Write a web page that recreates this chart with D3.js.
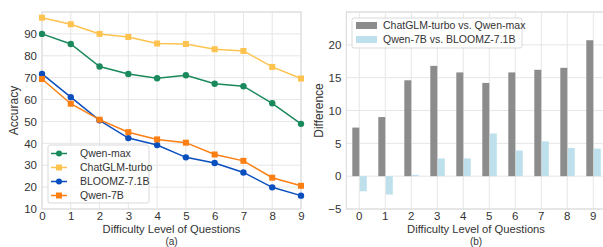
<!DOCTYPE html>
<html>
<head>
<meta charset="utf-8">
<script src="https://cdn.jsdelivr.net/npm/d3@7"></script>
<style>
  body { margin: 0; background: #fff; }
  svg { font-family: "Liberation Sans", Arial, sans-serif; }
  .tick text { fill: #333; font-size: 11.5px; }
</style>
</head>
<body>
<div id="chart"></div>
<script>
const levels = [0, 1, 2, 3, 4, 5, 6, 7, 8, 9];
const qwenMax = [90.0, 85.4, 75.1, 71.7, 69.7, 71.1, 67.2, 66.1, 58.3, 48.9];
const chatglm = [97.4, 94.4, 90.0, 88.6, 85.6, 85.4, 83.0, 82.2, 74.9, 69.6];
const bloomz = [71.7, 61.1, 50.5, 42.4, 39.2, 33.6, 31.0, 26.7, 19.9, 16.1];
const qwen7b = [69.4, 58.1, 50.8, 45.1, 41.8, 40.3, 34.9, 32.0, 24.3, 20.6];
const diffGlmMax = [7.4, 9.0, 14.6, 16.8, 15.8, 14.2, 15.8, 16.2, 16.5, 20.7];
const diff7bBloom = [-2.3, -2.8, 0.2, 2.7, 2.7, 6.5, 3.9, 5.3, 4.3, 4.2];
const accTicks = [10, 20, 30, 40, 50, 60, 70, 80, 90];
const diffTicks = [-5, 0, 5, 10, 15, 20];

const series = [
  {name: "Qwen-max", values: qwenMax, color: "#1a8a5c", marker: "circle"},
  {name: "ChatGLM-turbo", values: chatglm, color: "#fec34f", marker: "square"},
  {name: "BLOOMZ-7.1B", values: bloomz, color: "#0b4fbf", marker: "circle"},
  {name: "Qwen-7B", values: qwen7b, color: "#fb7f12", marker: "square"}
];
const bars = [
  {name: "ChatGLM-turbo vs. Qwen-max", values: diffGlmMax, color: "#8c8c8c"},
  {name: "Qwen-7B vs. BLOOMZ-7.1B", values: diff7bBloom, color: "#bde0ec"}
];

const W = 603, H = 247;
const svg = d3.select("#chart").append("svg").attr("width", W).attr("height", H);
const gridColor = "#e6e6e6";

// ---------- (a) line chart ----------
const L = {left: 42, right: 301, top: 12, bottom: 209};
const x1 = d3.scaleLinear().domain([0, 9]).range([L.left, L.right]);
const y1 = d3.scaleLinear().domain([10, 100]).range([L.bottom, L.top]);

const gA = svg.append("g");
gA.append("g").selectAll("line").data(levels).join("line")
  .attr("x1", d => x1(d)).attr("x2", d => x1(d))
  .attr("y1", L.top).attr("y2", L.bottom)
  .attr("stroke", gridColor);
gA.append("g").selectAll("line").data(accTicks.concat([100])).join("line")
  .attr("x1", L.left).attr("x2", L.right)
  .attr("y1", d => y1(d)).attr("y2", d => y1(d))
  .attr("stroke", gridColor);
gA.append("rect").attr("x", L.left).attr("y", L.top)
  .attr("width", L.right - L.left).attr("height", L.bottom - L.top)
  .attr("fill", "none").attr("stroke", "#d9d9d9");

gA.append("g").attr("transform", `translate(0,${L.bottom})`)
  .call(d3.axisBottom(x1).tickValues(levels).tickFormat(d3.format("d")).tickSize(0).tickPadding(3))
  .call(g => g.select(".domain").remove());
gA.append("g").attr("transform", `translate(${L.left},0)`)
  .call(d3.axisLeft(y1).tickValues(accTicks).tickSize(0).tickPadding(5))
  .call(g => g.select(".domain").remove());

const line = d3.line().x((d, i) => x1(levels[i])).y(d => y1(d));
series.forEach(s => {
  gA.append("path").datum(s.values).attr("d", line)
    .attr("fill", "none").attr("stroke", s.color).attr("stroke-width", 1.5);
  if (s.marker === "circle") {
    gA.append("g").selectAll("circle").data(s.values).join("circle")
      .attr("cx", (d, i) => x1(levels[i])).attr("cy", d => y1(d)).attr("r", 3.2)
      .attr("fill", s.color);
  } else {
    gA.append("g").selectAll("rect").data(s.values).join("rect")
      .attr("x", (d, i) => x1(levels[i]) - 3).attr("y", d => y1(d) - 3)
      .attr("width", 6).attr("height", 6).attr("fill", s.color);
  }
});

// legend (a)
const legA = gA.append("g").attr("transform", "translate(48,145)");
legA.append("rect").attr("width", 101).attr("height", 58).attr("rx", 2)
  .attr("fill", "#fff").attr("fill-opacity", 0.85).attr("stroke", "#d9d9d9");
series.forEach((s, i) => {
  const yy = 8.5 + i * 14;
  legA.append("line").attr("x1", 3).attr("x2", 19).attr("y1", yy).attr("y2", yy)
    .attr("stroke", s.color).attr("stroke-width", 1.5);
  if (s.marker === "circle") legA.append("circle").attr("cx", 11).attr("cy", yy).attr("r", 3).attr("fill", s.color);
  else legA.append("rect").attr("x", 8).attr("y", yy - 3).attr("width", 6).attr("height", 6).attr("fill", s.color);
  legA.append("text").attr("x", 32).attr("y", yy + 3.5).attr("font-size", 10.5).attr("fill", "#333").text(s.name);
});

gA.append("text").attr("x", (L.left + L.right) / 2).attr("y", 233)
  .attr("text-anchor", "middle").attr("font-size", 11.2).attr("fill", "#333")
  .text("Difficulty Level of Questions");
gA.append("text").attr("x", (L.left + L.right) / 2).attr("y", 244.8)
  .attr("text-anchor", "middle").attr("font-size", 10).attr("fill", "#333").text("(a)");
gA.append("text").attr("transform", `translate(18,${(L.top + L.bottom) / 2}) rotate(-90)`)
  .attr("text-anchor", "middle").attr("font-size", 12).attr("fill", "#333").text("Accuracy");

// ---------- (b) bar chart ----------
const R = {left: 346.3, right: 606.3, top: 12, bottom: 209};
const x2 = d3.scaleBand().domain(levels).range([R.left, R.right]);
const y2 = d3.scaleLinear().domain([-5, 25]).range([R.bottom, R.top]);
const bw = 7;

const gB = svg.append("g");
gB.append("g").selectAll("line").data(levels).join("line")
  .attr("x1", d => x2(d) + x2.bandwidth() / 2).attr("x2", d => x2(d) + x2.bandwidth() / 2)
  .attr("y1", R.top).attr("y2", R.bottom).attr("stroke", gridColor);
gB.append("g").selectAll("line").data(diffTicks.concat([25])).join("line")
  .attr("x1", R.left).attr("x2", R.right)
  .attr("y1", d => y2(d)).attr("y2", d => y2(d)).attr("stroke", gridColor);
gB.append("rect").attr("x", R.left).attr("y", R.top)
  .attr("width", R.right - R.left).attr("height", R.bottom - R.top)
  .attr("fill", "none").attr("stroke", "#d9d9d9");

gB.append("g").attr("transform", `translate(0,${R.bottom})`)
  .call(d3.axisBottom(x2).tickSize(0).tickPadding(3))
  .call(g => g.select(".domain").remove());
gB.append("g").attr("transform", `translate(${R.left},0)`)
  .call(d3.axisLeft(y2).tickValues(diffTicks).tickSize(0).tickPadding(5).tickFormat(d => d < 0 ? "\u2212" + (-d) : d))
  .call(g => g.select(".domain").remove());

bars.forEach((b, k) => {
  gB.append("g").selectAll("rect").data(b.values).join("rect")
    .attr("x", (d, i) => x2(levels[i]) + x2.bandwidth() / 2 + (k === 0 ? -bw : 0.5))
    .attr("y", d => y2(Math.max(0, d)))
    .attr("width", bw)
    .attr("height", d => Math.abs(y2(d) - y2(0)))
    .attr("fill", b.color);
});

const legB = gB.append("g").attr("transform", "translate(352,18)");
legB.append("rect").attr("width", 170).attr("height", 30).attr("rx", 2)
  .attr("fill", "#fff").attr("fill-opacity", 0.85).attr("stroke", "#d9d9d9");
bars.forEach((b, i) => {
  const yy = 7.5 + i * 14;
  legB.append("rect").attr("x", 4).attr("y", yy - 3.5).attr("width", 21).attr("height", 7).attr("fill", b.color);
  legB.append("text").attr("x", 31).attr("y", yy + 3.5).attr("font-size", 10.5).attr("fill", "#333").text(b.name);
});

gB.append("text").attr("x", 476).attr("y", 233)
  .attr("text-anchor", "middle").attr("font-size", 11.2).attr("fill", "#333")
  .text("Difficulty Level of Questions");
gB.append("text").attr("x", 476).attr("y", 244.8)
  .attr("text-anchor", "middle").attr("font-size", 10).attr("fill", "#333").text("(b)");
gB.append("text").attr("transform", `translate(323,${(R.top + R.bottom) / 2}) rotate(-90)`)
  .attr("text-anchor", "middle").attr("font-size", 12).attr("fill", "#333").text("Difference");
</script>
</body>
</html>
